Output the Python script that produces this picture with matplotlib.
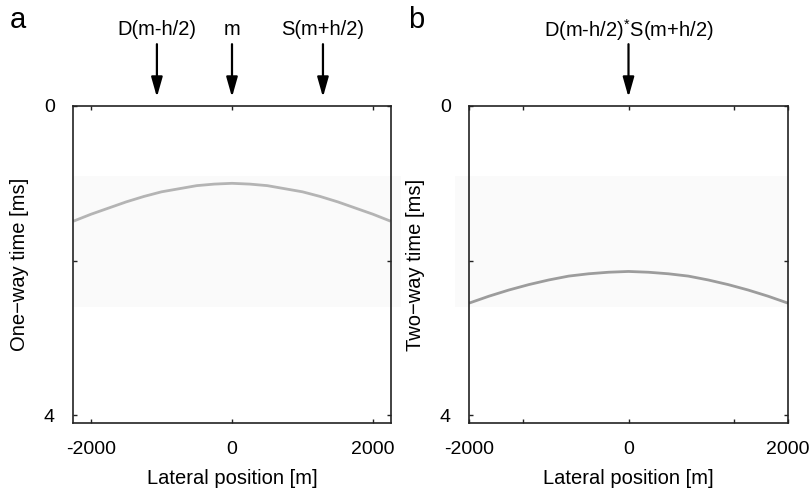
import matplotlib.pyplot as plt
from matplotlib.patches import Rectangle
import numpy as np

plt.rcParams['font.family'] = ['Liberation Sans', 'DejaVu Sans']
plt.rcParams['mathtext.fontset'] = 'custom'
plt.rcParams['mathtext.rm'] = 'Liberation Sans'
plt.rcParams['axes.unicode_minus'] = False

# lateral position (m) and picked traveltime (ms)
x_pos = [-2250, -2000, -1750, -1500, -1250, -1000, -750, -500, -250, 0,
         250, 500, 750, 1000, 1250, 1500, 1750, 2000, 2250]
t_oneway = [1.49, 1.40, 1.32, 1.24, 1.17, 1.11, 1.07, 1.03, 1.01, 1.00,
            1.01, 1.03, 1.07, 1.11, 1.17, 1.24, 1.32, 1.40, 1.49]
x_pos_b = [-2000, -1750, -1500, -1250, -1000, -750, -500, -250, 0,
           250, 500, 750, 1000, 1250, 1500, 1750, 2000]
t_twoway = [2.55, 2.46, 2.38, 2.31, 2.25, 2.20, 2.17, 2.15, 2.14,
            2.15, 2.17, 2.20, 2.25, 2.31, 2.38, 2.46, 2.55]

# faint background of the gather image (ms)
band_top, band_bot = 0.91, 2.60

arrows_a = [-1065, 0, 1290]
arrow_labels_a = ['D(m-h/2)', 'm', 'S(m+h/2)']
arrows_b = [0]
arrow_labels_b = ['D(m-h/2)$^{*}$S(m+h/2)']

fig = plt.figure(figsize=(8.09, 4.93), dpi=100)
ax_a = fig.add_axes([73/809, 1-423/493, 318/809, 317/493])
ax_b = fig.add_axes([469/809, 1-423/493, 319/809, 317/493])


def style(ax):
    for sp in ax.spines.values():
        sp.set_linewidth(1.2)
        sp.set_color('#222222')
    ax.tick_params(direction='in', length=3, width=1, top=True, right=True,
                   labelsize=14, color='#222222')
    ax.tick_params(axis='x', pad=13)
    ax.tick_params(axis='y', pad=13)
    ax.set_ylim(4.1, 0)
    ax.set_yticks([0, 2, 4])
    ax.set_yticklabels(['0', '', '4'])
    ax.set_xlabel('Lateral position [m]', fontsize=14.5, labelpad=8)


def put_arrows(ax, xs, labels):
    for xa, lab in zip(xs, labels):
        ax.annotate('', xy=(xa, 1.028), xytext=(xa, 1.195),
                    xycoords=('data', 'axes fraction'),
                    arrowprops=dict(arrowstyle='-|>,head_length=0.6,head_width=0.17',
                                    color='black', lw=1.6, mutation_scale=20,
                                    shrinkA=0, shrinkB=0))
        ax.text(xa, 1.24, lab, transform=ax.get_xaxis_transform(),
                ha='center', va='center', fontsize=14.5)


# panel a
style(ax_a)
ax_a.set_xlim(-2255, 2255)
ax_a.set_xticks([-2000, 0, 2000])
ax_a.set_xticklabels(['-2000', '0', '2000'])
ax_a.add_patch(Rectangle((-2255, band_top), 4650, band_bot-band_top,
                         facecolor='#fafafa', edgecolor='none', clip_on=False, zorder=0))
ax_a.plot(x_pos, t_oneway, color='#b4b4b4', lw=2.0, solid_capstyle='butt')
ax_a.set_ylabel('One\u2212way time [ms]', fontsize=14.5, labelpad=11)
put_arrows(ax_a, arrows_a, arrow_labels_a)

# panel b
style(ax_b)
ax_b.set_xlim(-2000, 2000)
ax_b.set_xticks([-2000, -1325, 0, 1325, 2000])
ax_b.set_xticklabels(['-2000', '', '0', '', '2000'])
ax_b.add_patch(Rectangle((-2180, band_top), 4180, band_bot-band_top,
                         facecolor='#fafafa', edgecolor='none', clip_on=False, zorder=0))
ax_b.plot(x_pos_b, t_twoway, color='#9c9c9c', lw=2.0, solid_capstyle='butt')
ax_b.set_ylabel('Two\u2212way time [ms]', fontsize=14.5, labelpad=11)
put_arrows(ax_b, arrows_b, arrow_labels_b)

fig.text(18/809, 1-20/493, 'a', fontsize=21, ha='center', va='center')
fig.text(416/809, 1-20/493, 'b', fontsize=21, ha='center', va='center')

fig.savefig('out.png', dpi=100, facecolor='w')
